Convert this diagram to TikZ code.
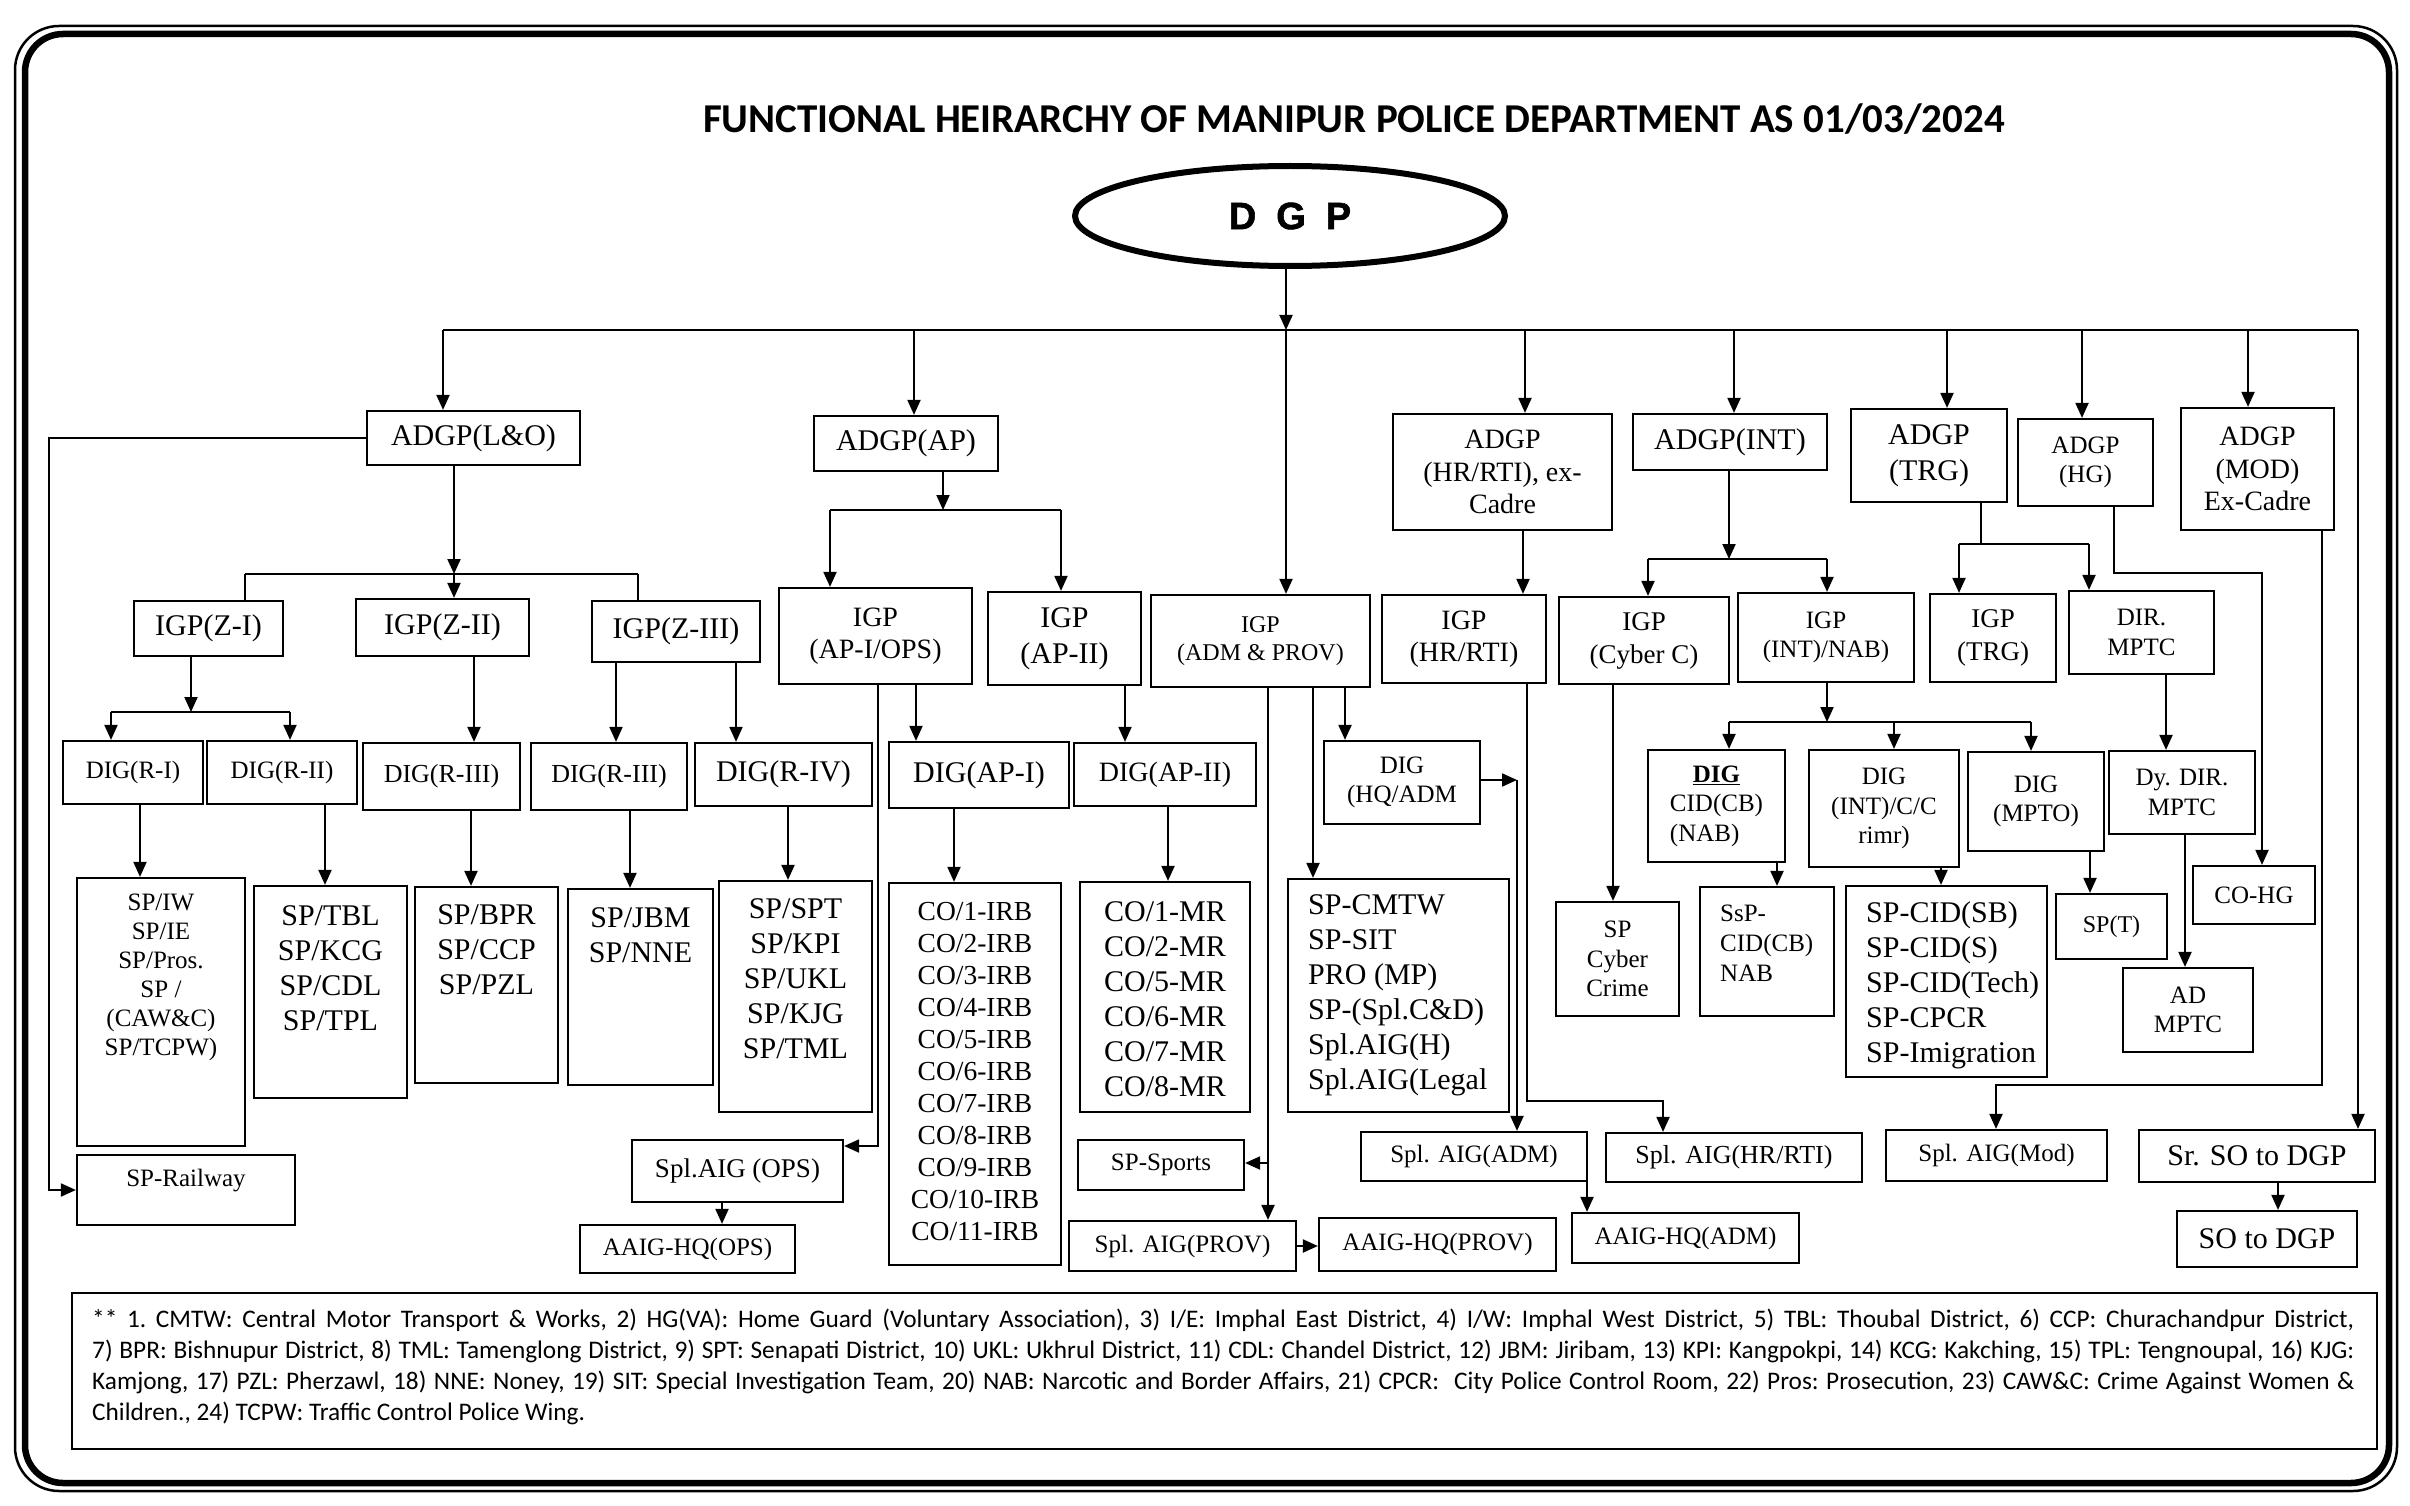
\documentclass[tikz,border=0pt]{standalone}
\usepackage{fontspec}
\setmainfont{Liberation Serif}
\newfontfamily\calib{Carlito}
\newfontfamily\dgpfont[FakeBold=1.5]{Liberation Sans}
\usetikzlibrary{arrows.meta,shapes.geometric}
\newcommand\fz[2]{\fontsize{#1}{#2}\selectfont}
% #1 name, #2 x1, #3 y1, #4 x2, #5 y2, #6 style, #7 text
\newcommand\boxat[7]{\node[bx,#6,minimum width={#4-#2},minimum height={#5-#3}] (#1) at ({(#2+#4)/2},{(#3+#5)/2}) {#7};}
\begin{document}
\begin{tikzpicture}[x=1pt,y=-1pt,
  bx/.style={draw,line width=2.2pt,inner sep=0pt,align=center},
  ln/.style={line width=2pt},
  arr/.style={line width=2pt,-{Triangle[length=15pt,width=13pt]}},
  txt/.style={inner sep=0pt,align=center},
  f24/.style={font=\fz{24}{28}},
  f25/.style={font=\fz{25}{29.5}},
  f26/.style={font=\fz{26}{30}},
  f27/.style={font=\fz{27}{33}},
  f28/.style={font=\fz{28}{32.5}},
  f30/.style={font=\fz{30}{36}},
  f30s/.style={font=\fz{30}{35}}]
\useasboundingbox (0,0) rectangle (2410,1506);
% frame
\draw[line width=2.5pt,rounded corners=44pt] (15,26) rectangle (2397,1491);
\draw[line width=6.5pt,rounded corners=38pt] (25,34) rectangle (2389,1483);
% title
\node[inner sep=0pt,anchor=base,font=\calib\bfseries\fz{41}{45}] (title) at (1354,132.5) {FUNCTIONAL HEIRARCHY OF MANIPUR POLICE DEPARTMENT AS 01/03/2024};
% DGP
\node[ellipse,draw,line width=6pt,minimum width=430,minimum height=100,inner sep=0pt,font=\dgpfont\bfseries\fz{38}{40}] (dgp) at (1290,216) {D\hspace{20pt}G\hspace{20pt}P};
% ADGP row
\boxat{lo}{367}{411}{580}{465}{f30}{ADGP(L\&O)}
\boxat{ap}{814}{416}{998}{471}{f30}{ADGP(AP)}
\boxat{hr}{1393}{414}{1612}{530}{f28}{ADGP\\(HR/RTI), ex-\\Cadre}
\boxat{int}{1633}{414}{1827}{470}{f30}{ADGP(INT)}
\boxat{trg}{1851}{409}{2007}{502}{f30}{ADGP\\(TRG)}
\boxat{hg}{2018}{419}{2153}{506}{f25}{ADGP\\(HG)}
\boxat{mod}{2181}{408}{2334}{530}{f28}{ADGP\\(MOD)\\Ex-Cadre}
% IGP row
\boxat{z1}{134}{601}{283}{656}{f30}{IGP(Z-I)}
\boxat{z2}{356}{599}{529}{656}{f30}{IGP(Z-II)}
\boxat{z3}{592}{601}{760}{662}{f30}{IGP(Z-III)}
\boxat{api}{779}{588}{972}{684}{f28}{IGP\\(AP-I/OPS)}
\boxat{apii}{988}{592}{1141}{685}{f30}{IGP\\(AP-II)}
\boxat{adm}{1151}{595}{1370}{687}{f24}{IGP\\(ADM \& PROV)}
\boxat{ighr}{1382}{595}{1546}{683}{f28}{IGP\\(HR/RTI)}
\boxat{cyb}{1559}{597}{1729}{684}{f27}{IGP\\(Cyber C)}
\boxat{inab}{1738}{593}{1914}{682}{f25}{IGP\\(INT)/NAB)}
\boxat{itrg}{1930}{594}{2056}{682}{f27}{IGP\\(TRG)}
\boxat{dir}{2069}{591}{2214}{674}{f25}{DIR.\\MPTC}
% DIG row
\boxat{r1}{63}{741}{203}{804}{f25}{DIG(R-I)}
\boxat{r2}{207}{741}{357}{804}{f25}{DIG(R-II)}
\boxat{r3a}{363}{743}{520}{810}{f26}{DIG(R-III)}
\boxat{r3b}{531}{743}{687}{810}{f26}{DIG(R-III)}
\boxat{r4}{695}{743}{872}{806}{f30}{DIG(R-IV)}
\boxat{dap1}{889}{742}{1069}{808}{f30}{DIG(AP-I)}
\boxat{dap2}{1074}{743}{1256}{806}{f28}{DIG(AP-II)}
\boxat{hq}{1324}{741}{1480}{824}{f25}{DIG\\(HQ/ADM}
\boxat{dcb}{1648}{750}{1785}{862}{f25}{\begin{tabular}{@{}l@{}}\multicolumn{1}{@{}c@{}}{\underline{\textbf{DIG}}}\\CID(CB)\\(NAB)\end{tabular}}
\boxat{dint}{1809}{750}{1959}{867}{f25}{DIG\\(INT)/C/C\\rimr)}
\boxat{mpto}{1968}{752}{2104}{851}{f25}{DIG\\(MPTO)}
\boxat{dydir}{2109}{751}{2255}{834}{f25}{Dy. DIR.\\MPTC}
% SP row
\boxat{spiw}{77}{878}{245}{1146}{f25}{}
\node[txt,font=\fz{25}{29}] (spiwt) at (161,977.5) {SP/IW\\SP/IE\\SP/Pros.\\SP /\\(CAW\&C)\\SP/TCPW)};
\boxat{sptbl}{254}{886}{407}{1098}{f30}{}
\node[txt,f30s] (sptblt) at (330.5,968.5) {SP/TBL\\SP/KCG\\SP/CDL\\SP/TPL};
\boxat{spbpr}{415}{887}{558}{1083}{f30}{}
\node[txt,f30s] (spbprt) at (486.5,950) {SP/BPR\\SP/CCP\\SP/PZL};
\boxat{spjbm}{568}{889}{713}{1085}{f30}{}
\node[txt,f30s] (spjbmt) at (640.5,935.5) {SP/JBM\\SP/NNE};
\boxat{spspt}{719}{881}{872}{1112}{f30}{}
\node[txt,f30s] (spsptt) at (795.5,979) {SP/SPT\\SP/KPI\\SP/UKL\\SP/KJG\\SP/TML};
\boxat{coirb}{889}{883}{1061}{1265}{f28}{}
\node[txt,font=\fz{27.5}{32}] (coirbt) at (975,1072) {CO/1-IRB\\CO/2-IRB\\CO/3-IRB\\CO/4-IRB\\CO/5-IRB\\CO/6-IRB\\CO/7-IRB\\CO/8-IRB\\CO/9-IRB\\CO/10-IRB\\CO/11-IRB};
\boxat{comr}{1080}{882}{1250}{1112}{f30}{}
\node[txt,f30s] (comrt) at (1165,999.5) {CO/1-MR\\CO/2-MR\\CO/5-MR\\CO/6-MR\\CO/7-MR\\CO/8-MR};
\boxat{cmtw}{1288}{879}{1509}{1112}{f30}{}
\node[txt,f30s,align=left,anchor=west] (cmtwt) at (1308,995.5) {SP-CMTW\\SP-SIT\\PRO (MP)\\SP-(Spl.C\&D)\\Spl.AIG(H)\\Spl.AIG(Legal};
\boxat{cyc}{1556}{902}{1679}{1016}{f25}{SP\\Cyber\\Crime}
\boxat{ssp}{1700}{887}{1834}{1016}{f25}{}
\node[txt,font=\fz{25}{30},align=left,anchor=west] (sspt) at (1720,943) {SsP-\\CID(CB)\\NAB};
\boxat{spcid}{1846}{886}{2047}{1077}{f30}{}
\node[txt,f30s,align=left,anchor=west] (spcidt) at (1866,985.5) {SP-CID(SB)\\SP-CID(S)\\SP-CID(Tech)\\SP-CPCR\\SP-Imigration};
\boxat{spt}{2056}{894}{2167}{959}{f24}{SP(T)}
\boxat{cohg}{2193}{866}{2315}{924}{f25}{CO-HG}
\boxat{admptc}{2123}{968}{2253}{1052}{f25}{AD\\MPTC}
% lower row
\boxat{rail}{77}{1155}{295}{1225}{f25}{}
\node[txt,f25] (railt) at (186,1181) {SP-Railway};
\boxat{aigops}{632}{1140}{843}{1202}{f27}{Spl.AIG (OPS)}
\boxat{aaigops}{580}{1225}{795}{1273}{f25}{AAIG-HQ(OPS)}
\boxat{sports}{1078}{1140}{1244}{1190}{f25}{SP-Sports}
\boxat{aigprov}{1069}{1221}{1296}{1271}{f25}{Spl. AIG(PROV)}
\boxat{aaigprov}{1319}{1218}{1556}{1271}{f25}{AAIG-HQ(PROV)}
\boxat{aigadm}{1361}{1132}{1587}{1181}{f25}{Spl. AIG(ADM)}
\boxat{aaigadm}{1572}{1213}{1799}{1263}{f25}{AAIG-HQ(ADM)}
\boxat{aighr}{1606}{1133}{1862}{1182}{f26}{Spl. AIG(HR/RTI)}
\boxat{aigmod}{1886}{1130}{2107}{1181}{f25}{Spl. AIG(Mod)}
\boxat{srso}{2139}{1130}{2375}{1182}{f30}{Sr. SO to DGP}
\boxat{so}{2177}{1211}{2357}{1267}{f30}{SO to DGP}
% footnote
\node[draw,line width=2pt,inner sep=0pt,minimum width=2305.5,minimum height=156] (fn) at (1224.25,1371) {};
\node[inner sep=0pt,anchor=north west,text width=2262pt,align=justify,font=\calib\fz{25.3}{31}] (fnt) at (92,1309) {\frenchspacing\spaceskip=0.226em plus 0.35em minus 0.1em ** 1. CMTW: Central Motor Transport \& Works, 2) HG(VA): Home Guard (Voluntary Association), 3) I/E: Imphal East District, 4) I/W: Imphal West District, 5) TBL: Thoubal District, 6) CCP: Churachandpur District,\linebreak 7) BPR: Bishnupur District, 8) TML: Tamenglong District, 9) SPT: Senapati District, 10) UKL: Ukhrul District, 11) CDL: Chandel District, 12) JBM: Jiribam, 13) KPI: Kangpokpi, 14) KCG: Kakching, 15) TPL: Tengnoupal, 16) KJG:\linebreak Kamjong, 17) PZL: Pherzawl, 18) NNE: Noney, 19) SIT: Special Investigation Team, 20) NAB: Narcotic and Border Affairs, 21) CPCR:\ \ City Police Control Room, 22) Pros: Prosecution, 23) CAW\&C: Crime Against Women \&\linebreak Children., 24) TCPW: Traffic Control Police Wing.};
% ===== connectors =====
\coordinate (bl) at (443,330);
\coordinate (br) at (2358,330);
\coordinate (bd) at (1286,330);
\draw[ln] (bl) -- (br);
\draw[arr] (dgp.south -| bd) -- (bd);
\draw[arr] (bd) -- (bd |- adm.north);
\draw[arr] (bl) -- (bl |- lo.north);
\draw[arr] (914,330) -- (914,330 |- ap.north);
\draw[arr] (1525,330) -- (1525,330 |- hr.north);
\draw[arr] (1734,330) -- (1734,330 |- int.north);
\draw[arr] (1947,330) -- (1947,330 |- trg.north);
\draw[arr] (2082,330) -- (2082,330 |- hg.north);
\draw[arr] (2248,330) -- (2248,330 |- mod.north);
\draw[arr] (br) -- (br |- srso.north);
% L&O
\draw[arr] (lo.west) -- ++(-317,0) |- (rail.west);
\draw[arr] (454,0 |- lo.south) -- (454,574);
\draw[ln] (245,574) -- (638,574);
\draw[ln] (245,574) -- (245,0 |- z1.north);
\draw[arr] (454,574) -- (454,0 |- z2.north);
\draw[ln] (638,574) -- (638,0 |- z3.north);
\draw[arr] (191,0 |- z1.south) -- (191,712);
\draw[ln] (111,712) -- (290,712);
\draw[arr] (111,712) -- (111,0 |- r1.north);
\draw[arr] (290,712) -- (290,0 |- r2.north);
\draw[arr] (474,0 |- z2.south) -- (474,0 |- r3a.north);
\draw[arr] (616,0 |- z3.south) -- (616,0 |- r3b.north);
\draw[arr] (736,0 |- z3.south) -- (736,0 |- r4.north);
\draw[arr] (140,0 |- r1.south) -- (140,0 |- spiw.north);
\draw[arr] (325,0 |- r2.south) -- (325,0 |- sptbl.north);
\draw[arr] (471,0 |- r3a.south) -- (471,0 |- spbpr.north);
\draw[arr] (630,0 |- r3b.south) -- (630,0 |- spjbm.north);
\draw[arr] (788,0 |- r4.south) -- (788,0 |- spspt.north);
% AP
\draw[arr] (943,0 |- ap.south) -- (943,510);
\draw[ln] (830,510) -- (1061,510);
\draw[arr] (830,510) -- (830,0 |- api.north);
\draw[arr] (1061,510) -- (1061,0 |- apii.north);
\draw[arr] (877.6,0 |- api.south) -- (877.6,1146) -- (aigops.east |- 0,1146);
\draw[arr] (916,0 |- api.south) -- (916,0 |- dap1.north);
\draw[arr] (1125,0 |- apii.south) -- (1125,0 |- dap2.north);
\draw[arr] (954,0 |- dap1.south) -- (954,0 |- coirb.north);
\draw[arr] (1168,0 |- dap2.south) -- (1168,0 |- comr.north);
\draw[arr] (722,0 |- aigops.south) -- (722,0 |- aaigops.north);
% ADM & PROV
\draw[arr] (1268,0 |- adm.south) -- (1268,0 |- aigprov.north);
\draw[arr] (1268,1163) -- (sports.east |- 0,1163);
\draw[arr] (1313,0 |- adm.south) -- (1313,0 |- cmtw.north);
\draw[arr] (1345,0 |- adm.south) -- (1345,0 |- hq.north);
\draw[arr] (hq.east |- 0,780) -- (1517,780);
\draw[arr] (1517,780) -- (1517,0 |- aigadm.north);
\draw[arr] (1587,0 |- aigadm.south) -- (1587,0 |- aaigadm.north);
\draw[arr] (aigprov.east) -- (aaigprov.west |- aigprov.east);
% HR
\draw[arr] (1523,0 |- hr.south) -- (1523,0 |- ighr.north);
\draw[arr] (1527,0 |- ighr.south) -- (1527,1101) -| (1663,0 |- aighr.north);
% INT
\draw[arr] (1729,0 |- int.south) -- (1729,559);
\draw[ln] (1648,559) -- (1827,559);
\draw[arr] (1648,559) -- (1648,0 |- cyb.north);
\draw[arr] (1827,559) -- (1827,0 |- inab.north);
\draw[arr] (1613,0 |- cyb.south) -- (1613,0 |- cyc.north);
\draw[arr] (1827,0 |- inab.south) -- (1827,722);
\draw[ln] (1729,722) -- (2031,722);
\draw[arr] (1729,722) -- (1729,0 |- dcb.north);
\draw[arr] (1894,722) -- (1894,0 |- dint.north);
\draw[arr] (2031,722) -- (2031,0 |- mpto.north);
\draw[arr] (1777,0 |- dcb.south) -- (1777,0 |- ssp.north);
\draw[arr] (1941,0 |- dint.south) -- (1941,0 |- spcid.north);
\draw[arr] (2090,0 |- mpto.south) -- (2090,0 |- spt.north);
% TRG
\draw[ln] (1981,0 |- trg.south) -- (1981,544);
\draw[ln] (1959,544) -- (2089,544);
\draw[arr] (1959,544) -- (1959,0 |- itrg.north);
\draw[arr] (2089,544) -- (2089,0 |- dir.north);
\draw[arr] (2166,0 |- dir.south) -- (2166,0 |- dydir.north);
\draw[arr] (2185,0 |- dydir.south) -- (2185,0 |- admptc.north);
% HG
\draw[arr] (2114,0 |- hg.south) -- (2114,573) -| (2262,0 |- cohg.north);
% MOD
\draw[arr] (2322,0 |- mod.south) -- (2322,1085) -| (1996,0 |- aigmod.north);
% SO
\draw[arr] (2278,0 |- srso.south) -- (2278,0 |- so.north);
\end{tikzpicture}
\end{document}
